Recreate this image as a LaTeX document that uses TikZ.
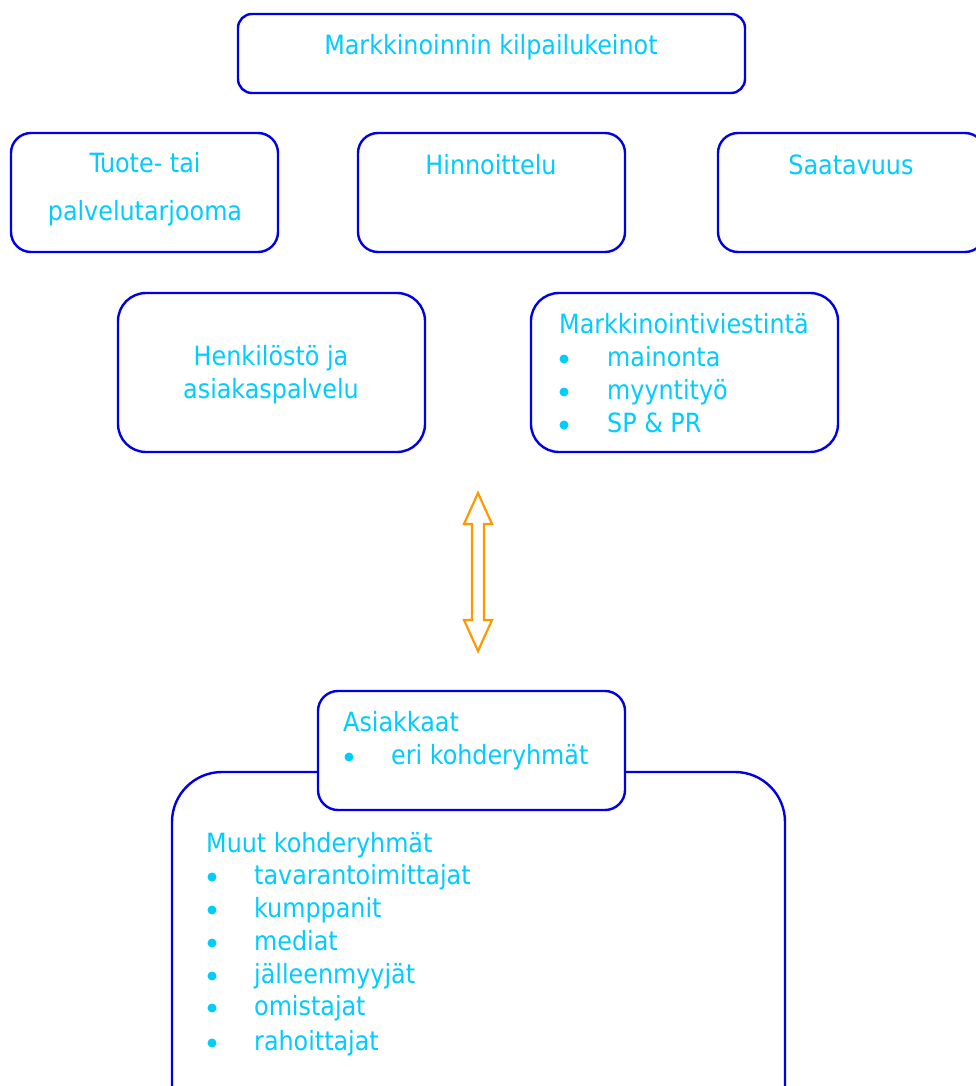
\documentclass[tikz,border=0pt]{standalone}
\usepackage{fontspec}
\setmainfont{DejaVu Sans Condensed}
\definecolor{txt}{RGB}{0,204,255}
\definecolor{bx}{RGB}{0,0,230}
\definecolor{arr}{RGB}{255,153,0}
\begin{document}
\begin{tikzpicture}[x=1pt,y=-1pt,
  box/.style={draw=bx, line width=2.4pt, rounded corners=20pt, fill=white, inner sep=0pt},
  t/.style={text=txt, font=\fontsize{26.5}{30}\selectfont, inner sep=0pt, anchor=base},
  tl/.style={t, anchor=base west},
  bul/.style={circle, fill=txt, inner sep=0pt, minimum size=9pt}]
\useasboundingbox (0,0) rectangle (976,1086);
\clip (0,0) rectangle (976,1086);
% top row
\node[box, rounded corners=14pt, minimum width=507pt, minimum height=79pt] (top) at (491.5,53.5) {};
\node[t] (topt) at (491,55) {Markkinoinnin kilpailukeinot};
\node[box, minimum width=267pt, minimum height=119pt] (tuote) at (144.5,192.5) {};
\node[t] (tuote1) at (145,172) {Tuote- tai};
\node[t] (tuote2) at (145,220) {palvelutarjooma};
\node[box, minimum width=267pt, minimum height=119pt] (hinta) at (491.5,192.5) {};
\node[t] (hintat) at (491,175) {Hinnoittelu};
\node[box, minimum width=267pt, minimum height=119pt] (saat) at (851.5,192.5) {};
\node[t] (saatt) at (851,175) {Saatavuus};
% second row
\node[box, rounded corners=28pt, minimum width=307pt, minimum height=159pt] (henk) at (271.5,372.5) {};
\node[t] (henk1) at (271,365) {Henkilöstö ja};
\node[t] (henk2) at (271,398) {asiakaspalvelu};
\node[box, rounded corners=28pt, minimum width=307pt, minimum height=159pt] (mv) at (684.5,372.5) {};
\node[tl] (mvt) at (559,333) {Markkinointiviestintä};
\node[bul] (mvb1) at (564,359) {};
\node[tl] (mv1) at (607,366) {mainonta};
\node[bul] (mvb2) at (564,392) {};
\node[tl] (mv2) at (607,399) {myyntityö};
\node[bul] (mvb3) at (564,425) {};
\node[tl] (mv3) at (607,432) {SP \& PR};
% double block arrow
\draw[draw=arr, line width=2.2pt, line join=miter, fill=white]
  (478,493) -- (492,524) -- (484,524) -- (484,620) -- (492,620) -- (478,651)
  -- (464,620) -- (472,620) -- (472,524) -- (464,524) -- cycle;
% big box
\node[box, rounded corners=50pt, minimum width=613pt, minimum height=370pt] (muut) at (478.5,957) {};
\node[box, minimum width=307pt, minimum height=119pt] (asi) at (471.5,750.5) {};
\node[tl] (asit) at (343,731) {Asiakkaat};
\node[bul] (asib) at (349,757) {};
\node[tl] (asi1) at (391,764) {eri kohderyhmät};
\node[tl] (muutt) at (206,852) {Muut kohderyhmät};
\node[bul] (mb1) at (212,877) {};
\node[tl] (m1) at (254,884) {tavarantoimittajat};
\node[bul] (mb2) at (212,910) {};
\node[tl] (m2) at (254,917) {kumppanit};
\node[bul] (mb3) at (212,943) {};
\node[tl] (m3) at (254,950) {mediat};
\node[bul] (mb4) at (212,976) {};
\node[tl] (m4) at (254,983) {jälleenmyyjät};
\node[bul] (mb5) at (212,1008) {};
\node[tl] (m5) at (254,1015) {omistajat};
\node[bul] (mb6) at (212,1043) {};
\node[tl] (m6) at (254,1050) {rahoittajat};
\end{tikzpicture}
\end{document}
